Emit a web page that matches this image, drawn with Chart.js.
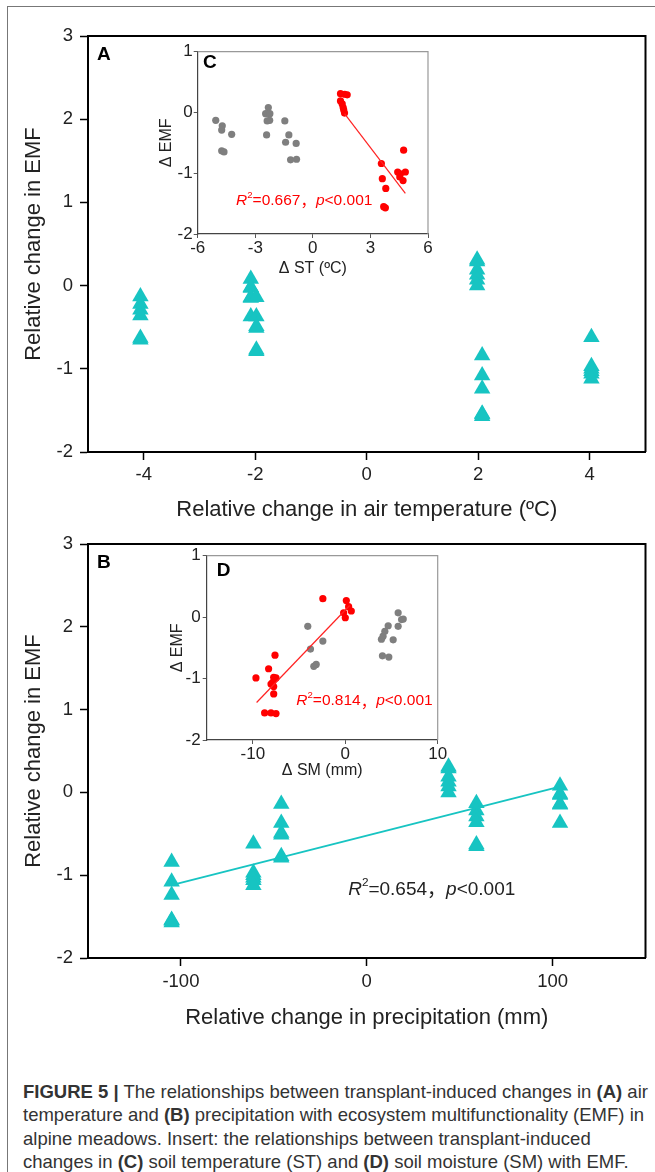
<!DOCTYPE html>
<html>
<head>
<meta charset="utf-8">
<script src="https://cdn.jsdelivr.net/npm/chart.js@4.4.1/dist/chart.umd.min.js"></script>
<style>
  html, body { margin: 0; padding: 0; background: #fff; }
  body { width: 655px; height: 1172px; position: relative; overflow: hidden;
         font-family: "Liberation Sans", Arial, sans-serif; }
  .frame { position: absolute; left: 7px; top: 6px; width: 700px; height: 1200px;
           border-left: 1px solid #777; border-top: 1px solid #777; }
  canvas { position: absolute; }
  #cA { left: 0; top: 0; }
  #cC { left: 150px; top: 30px; }
  #cB { left: 0; top: 520px; }
  #cD { left: 160px; top: 530px; }
  .caption { position: absolute; left: 23px; top: 1080px; font-size: 18.5px;
             line-height: 23.3px; color: #333; white-space: nowrap; }
</style>
</head>
<body>
<div class="frame"></div>
<canvas id="cA" width="655" height="530"></canvas>
<canvas id="cB" width="655" height="520"></canvas>
<canvas id="cC" width="290" height="255"></canvas>
<canvas id="cD" width="290" height="255"></canvas>
<div class="caption"><b>FIGURE 5 |</b> The relationships between transplant-induced changes in <b>(A)</b> air<br>temperature and <b>(B)</b> precipitation with ecosystem multifunctionality (EMF) in<br>alpine meadows. Insert: the relationships between transplant-induced<br>changes in <b>(C)</b> soil temperature (ST) and <b>(D)</b> soil moisture (SM) with EMF.</div>

<script>
const FONT = "'Liberation Sans', Arial, sans-serif";
const TEAL = '#17c4c2';

// ── Data: six sites x six plots ─────────────────────────────────────────────
const emf = [
  -0.13, -0.22, -0.29, -0.36, -0.63, -0.65,
   0.08, -0.02, -0.03, -0.14, -0.15, -0.37,
  -0.14, -0.37, -0.49, -0.51, -0.77, -0.79,
   0.31,  0.29,  0.19,  0.13,  0.07,  0.00,
  -0.84, -1.08, -1.24, -1.54, -1.55, -1.57,
  -0.62, -0.97, -1.00, -1.03, -1.06, -1.12
];
const airTemp = [
  -4.06, -4.06, -4.06, -4.06, -4.06, -4.06,
  -2.08, -2.08, -2.08, -2.08, -2.08, -2.08,
  -1.98, -1.98, -1.98, -1.98, -1.98, -1.98,
   1.98,  1.98,  1.98,  1.98,  1.98,  1.98,
   2.07,  2.07,  2.07,  2.07,  2.07,  2.07,
   4.03,  4.03,  4.03,  4.03,  4.03,  4.03
];
const precip = [
   59,  59,  59,  59,  59,  59,
  104, 104, 104, 104, 104, 104,
  -46, -46, -46, -46, -46, -46,
   44,  44,  44,  44,  44,  44,
 -105,-105,-105,-105,-105,-105,
  -61, -61, -61, -61, -61, -61
];
const precipFitX = [-105, 104];
const precipFitY = [-1.12, 0.07];

// inset C: soil temperature
const stGrayX = [-5.06, -4.72, -4.75, -4.23, -4.75, -4.63,
                 -2.32, -2.46, -2.24, -2.38, -2.25, -2.41,
                 -1.46, -1.25, -1.42, -0.87, -1.16, -0.85];
const stGrayY = [-0.13, -0.22, -0.29, -0.36, -0.63, -0.65,
                  0.08, -0.02, -0.02, -0.14, -0.13, -0.37,
                 -0.14, -0.37, -0.49, -0.51, -0.78, -0.77];
const stRedX = [1.44, 1.79, 1.66, 1.44, 1.53, 1.58, 1.61, 1.65,
                3.57, 3.62, 3.80, 3.69, 3.78,
                4.73, 4.42, 4.56, 4.82, 4.70, 4.53];
const stRedY = [0.31, 0.29, 0.30, 0.19, 0.14, 0.08, 0.04, -0.01,
                -0.84, -1.09, -1.25, -1.55, -1.57,
                -0.62, -0.98, -1.01, -0.98, -1.12, -1.06];
const stFitX = [1.65, 4.82];
const stFitY = [-0.02, -1.33];

// inset D: soil moisture
const smRedX = [-9.67, -8.30, -7.61, -7.75, -7.50, -8.04, -7.75, -7.86, -7.75,
                -8.73, -8.04, -7.50, -2.43, 0.11, 0.36, 0.65, -0.18, 0.00];
const smRedY = [-0.99, -0.84, -0.62, -0.98, -0.99, -1.09, -1.13, -1.06, -1.25,
                -1.56, -1.56, -1.57, 0.30, 0.27, 0.17, 0.10, 0.07, -0.01];
const smGrayX = [-4.06, -3.77, -3.41, -3.15, -2.43, 3.91, 4.09, 4.28,
                 4.64, 4.02, 4.71, 5.18, 5.72, 5.72, 6.09, 6.27];
const smGrayY = [-0.15, -0.52, -0.80, -0.77, -0.39, -0.36, -0.31, -0.23,
                 -0.14, -0.63, -0.65, -0.37, 0.07, -0.15, -0.04, -0.03];
const smFitX = [-9.6, 0.47];
const smFitY = [-1.39, 0.19];

// ticks
const emfTicks    = [-2, -1, 0, 1, 2, 3];
const airTicks    = [-4, -2, 0, 2, 4];
const precipTicks = [-100, 0, 100];
const dEmfTicks   = [-2, -1, 0, 1];
const stTicks     = [-6, -3, 0, 3, 6];
const smTicks     = [-10, 0, 10];

// ── Helpers ─────────────────────────────────────────────────────────────────
Chart.defaults.font.family = FONT;

const pts = (xs, ys) => xs.map((x, i) => ({ x, y: ys[i] }));

// R² = …，p < … with italic R / p and a raised 2
function drawStat(ctx, x0, y0, s) {
  const CJK = "'Noto Sans CJK SC', " + FONT;
  const parts = [
    ['italic', 'R', 0, 1, FONT],
    ['', '2', -0.36, 0.62, FONT],
    ['', '=' + s.r2, 0, 1, FONT],
    ['', '\uFF0C', 0, 1, CJK],
    ['italic', 'p', 0, 1, FONT],
    ['', '<' + s.p, 0, 1, FONT]
  ];
  ctx.fillStyle = s.color;
  ctx.textBaseline = 'middle';
  ctx.textAlign = 'left';
  let cx = x0;
  for (const [style, t, dy, k, fam] of parts) {
    ctx.font = `${style} ${s.size * k}px ${fam}`;
    ctx.fillText(t, cx, y0 + dy * s.size);
    cx += ctx.measureText(t).width;
  }
}

function decor(o) {
  return {
    id: 'decor',
    afterDraw(chart) {
      const { ctx, chartArea: a, scales: { x, y } } = chart;
      ctx.save();
      ctx.strokeStyle = o.frameColor;
      ctx.lineWidth = o.frameWidth;
      ctx.beginPath();
      ctx.moveTo(a.left, a.top);
      ctx.lineTo(a.right, a.top);
      ctx.lineTo(a.right, a.bottom);
      ctx.stroke();
      ctx.fillStyle = '#000';
      ctx.font = `bold ${o.letterSize}px ${FONT}`;
      ctx.textBaseline = 'middle';
      ctx.textAlign = 'left';
      ctx.fillText(o.letter, a.left + o.letterDx, a.top + o.letterDy);
      if (o.stat) drawStat(ctx, x.getPixelForValue(o.stat.x), y.getPixelForValue(o.stat.y), o.stat);
      ctx.restore();
    }
  };
}

function axis(o) {
  return {
    type: 'linear', min: o.min, max: o.max,
    afterBuildTicks: s => { s.ticks = o.ticks.map(v => ({ value: v })); },
    afterFit: s => { if (o.w) s.width = o.w; if (o.h) s.height = o.h; },
    ticks: { color: '#222', font: { size: o.fs }, padding: o.pad, autoSkip: false, maxRotation: 0 },
    grid: { drawOnChartArea: false, tickLength: o.tl, tickColor: o.color, tickWidth: o.bw * 0.75 },
    border: { color: o.color, width: o.bw },
    title: { display: true, text: o.title, color: '#222', font: { size: o.tfs }, padding: o.tpad }
  };
}

function makeChart(id, datasets, x, y, pad, deco) {
  return new Chart(document.getElementById(id), {
    type: 'scatter',
    data: { datasets },
    options: {
      responsive: false, animation: false, devicePixelRatio: 1,
      layout: { padding: pad },
      plugins: { legend: { display: false }, tooltip: { enabled: false } },
      scales: { x: axis(x), y: axis(y) }
    },
    plugins: [decor(deco)]
  });
}

const tri = data => ({ data, pointStyle: 'triangle', pointRadius: 9.5, borderWidth: 0,
                       backgroundColor: TEAL, borderColor: TEAL });
const dots = (data, c) => ({ data, pointStyle: 'circle', pointRadius: 3.6, borderWidth: 0,
                             backgroundColor: c, borderColor: c });
const fit = (data, c, w) => ({ data, showLine: true, pointRadius: 0, borderColor: c, borderWidth: w });

// ── Panel A ─────────────────────────────────────────────────────────────────
makeChart('cA', [tri(pts(airTemp, emf))],
  { min: -5, max: 5, ticks: airTicks, h: 78, fs: 18.5, pad: 3.5, tl: 8, color: '#000', bw: 2,
    title: 'Relative change in air temperature (\u00BAC)', tfs: 22, tpad: { top: 0, bottom: 6.8 } },
  { min: -2, max: 3, ticks: emfTicks, w: 88, fs: 18.5, pad: 7, tl: 8, color: '#000', bw: 2,
    title: 'Relative change in EMF', tfs: 22, tpad: { top: 21, bottom: 0 } },
  { top: 36, right: 9, left: 0, bottom: 0 },
  { frameColor: '#000', frameWidth: 2, letter: 'A', letterSize: 19, letterDx: 9, letterDy: 19 });

// ── Panel B ─────────────────────────────────────────────────────────────────
makeChart('cB', [fit(pts(precipFitX, precipFitY), TEAL, 2), tri(pts(precip, emf))],
  { min: -150, max: 150, ticks: precipTicks, h: 82, fs: 18.5, pad: 5, tl: 8, color: '#000', bw: 2,
    title: 'Relative change in precipitation (mm)', tfs: 22, tpad: { top: 0, bottom: 8.8 } },
  { min: -2, max: 3, ticks: emfTicks, w: 88, fs: 18.5, pad: 7, tl: 8, color: '#000', bw: 2,
    title: 'Relative change in EMF', tfs: 22, tpad: { top: 21, bottom: 0 } },
  { top: 24, right: 9, left: 0, bottom: 0 },
  { frameColor: '#000', frameWidth: 2, letter: 'B', letterSize: 19, letterDx: 9, letterDy: 19,
    stat: { x: -10, y: -1.17, size: 19, color: '#222', r2: '0.654', p: '0.001' } });

// ── Inset C ─────────────────────────────────────────────────────────────────
makeChart('cC', [fit(pts(stFitX, stFitY), '#f22', 1.2),
                 dots(pts(stGrayX, stGrayY), '#7f7f7f'), dots(pts(stRedX, stRedY), '#f00')],
  { min: -6, max: 6, ticks: stTicks, h: 51, fs: 17, pad: 0.5, tl: 4, color: '#444', bw: 1.2,
    title: '\u0394 ST (\u00BAC)', tfs: 16, tpad: { top: 0, bottom: 6.4 } },
  { min: -2, max: 1, ticks: dEmfTicks, w: 47.7, fs: 17, pad: 1, tl: 4, color: '#444', bw: 1.2,
    title: '\u0394 EMF', tfs: 16, tpad: { top: 7.4, bottom: 0 } },
  { top: 21.7, right: 12, left: 0, bottom: 0 },
  { frameColor: '#999', frameWidth: 1.2, letter: 'C', letterSize: 19, letterDx: 5.3, letterDy: 11.3,
    stat: { x: -4, y: -1.45, size: 15.5, color: '#f00', r2: '0.667', p: '0.001' } });

// ── Inset D ─────────────────────────────────────────────────────────────────
makeChart('cD', [fit(pts(smFitX, smFitY), '#f22', 1.2),
                 dots(pts(smGrayX, smGrayY), '#7f7f7f'), dots(pts(smRedX, smRedY), '#f00')],
  { min: -15, max: 10, ticks: smTicks, h: 45, fs: 17, pad: 0.5, tl: 4, color: '#444', bw: 1.2,
    title: '\u0394 SM (mm)', tfs: 16, tpad: { top: 0, bottom: 4.4 } },
  { min: -2, max: 1, ticks: dEmfTicks, w: 46.7, fs: 17, pad: 2, tl: 4, color: '#444', bw: 1.2,
    title: '\u0394 EMF', tfs: 16, tpad: { top: 8.4, bottom: 0 } },
  { top: 25.7, right: 12.3, left: 0, bottom: 0 },
  { frameColor: '#999', frameWidth: 1.2, letter: 'D', letterSize: 19, letterDx: 10, letterDy: 15,
    stat: { x: -5.3, y: -1.36, size: 15.5, color: '#f00', r2: '0.814', p: '0.001' } });
</script>
</body>
</html>
